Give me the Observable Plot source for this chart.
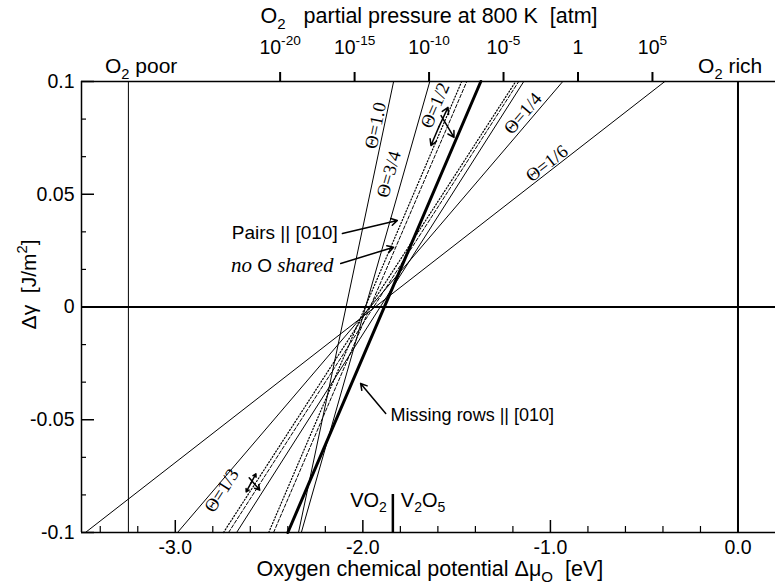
<!DOCTYPE html>
<html><head><meta charset="utf-8">
<script src="https://cdn.jsdelivr.net/npm/d3@7"></script>
<script src="https://cdn.jsdelivr.net/npm/@observablehq/plot@0.6"></script>
<style>body{margin:0;background:#fff;} svg{display:block;}</style>
</head><body><div id="chart"></div>
<script>
// ---------- data ----------
const lineNames = ["Θ=1.0","Θ=3/4","Θ=1/2 missing rows","Θ=1/2 pairs","Θ=1/2 no O shared","Θ=1/3","Θ=1/3 pairs","Θ=1/3 no O shared","Θ=1/4","Θ=1/6"];
const lineKind  = ["plain","plain","missing","pairs","noO","plain","pairs","noO","plain","plain"];
const muAtTop    = [-1.836,-1.643,-1.371,-1.473,-1.446,-1.142,-1.185,-1.169,-0.934,-0.390]; // Δμ where Δγ = +0.1
const muAtBottom = [-2.343,-2.328,-2.400,-2.502,-2.476,-2.673,-2.743,-2.716,-2.988,-3.479]; // Δμ where Δγ = -0.1

const xTicksMajor = [-3, -2, -1, 0];
const xTicksMinor = [-3.4,-3.2,-2.8,-2.6,-2.4,-2.2,-1.8,-1.6,-1.4,-1.2,-0.8,-0.6,-0.4,-0.2];
const yTicksMajor = [0.1, 0.05, 0, -0.05, -0.1];
const yTicksMinor = [0.08333,0.06667,0.03333,0.01667,-0.01667,-0.03333,-0.06667,-0.08333];

const pExponents = [-20, -15, -10, -5, 0, 5];
const pLabels = ["10^{-20}","10^{-15}","10^{-10}","10^{-5}","1","10^{5}"];
const muStd800 = -0.853;     // Δμ_O at p(O2) = 1 atm, 800 K
const muPerDecade = 0.0794;  // (kT/2)·ln10 at 800 K

const muO2poor = -3.25, muO2rich = 0;
const muVO2V2O5 = -1.84;

const thetaLabels = ["Θ=1.0","Θ=3/4","Θ=1/2","Θ=1/4","Θ=1/6","Θ=1/3"];
const thetaLine   = [0, 1, 2, 8, 9, 5];
const thetaX = [-1.932,-1.862,-1.615,-1.147,-1.019,-2.753];
const thetaY = [0.0805, 0.0588, 0.0894, 0.0858, 0.0636,-0.0814];

const noteText = ["Pairs || [010]", "no O shared", "Missing rows || [010]"];
const noteX = [-2.134, -2.156, -1.852];
const noteY = [0.0330, 0.0184, -0.0480];
const noteAnchor = ["end", "end", "start"];

const arrowX1 = [-2.109,-2.118,-1.878, -1.594,-1.594,-1.583, -2.596,-2.596,-2.606];
const arrowY1 = [ 0.0326, 0.0193,-0.0472, 0.0800, 0.0800, 0.0849, -0.0780,-0.0780,-0.0757];
const arrowX2 = [-1.816,-1.836,-2.012, -1.546,-1.637,-1.514, -2.570,-2.622,-2.550];
const arrowY2 = [ 0.0384, 0.0265,-0.0339, 0.0885, 0.0716, 0.0752, -0.0740,-0.0820,-0.0812];

// ---------- layout ----------
const W = 775, H = 588, mL = 81, mR = 0, mT = 81, mB = 56;
const xDom = [-3.5, 0.2], yDom = [-0.1, 0.1];
const kx = (W - mL - mR) / (xDom[1] - xDom[0]);
const ky = (H - mT - mB) / (yDom[1] - yDom[0]);

const rows = lineNames.flatMap((name, i) => [
  {name, kind: lineKind[i], mu: muAtBottom[i], dg: -0.1},
  {name, kind: lineKind[i], mu: muAtTop[i], dg: 0.1}
]);
const slope = i => 0.2 / (muAtTop[i] - muAtBottom[i]);
const thetaData = thetaLabels.map((t, j) => ({
  t, x: thetaX[j], y: thetaY[j],
  rot: -Math.atan(slope(thetaLine[j]) * ky / kx) * 180 / Math.PI
}));
const pPos = pExponents.map(n => muStd800 + muPerDecade * n);
const pData = pPos.map((x, i) => ({x, label: pLabels[i]}));
const notes = noteText.map((t, i) => ({t, x: noteX[i], y: noteY[i], a: noteAnchor[i]}));
const arrows = arrowX1.map((x1, i) => ({x1, y1: arrowY1[i], x2: arrowX2[i], y2: arrowY2[i]}));

const SANS = "'Liberation Sans', Arial, Helvetica, sans-serif";
const SERIF = "'Liberation Serif', 'Times New Roman', serif";

const styleOf = {
  plain:   {strokeWidth: 1},
  missing: {strokeWidth: 3},
  pairs:   {strokeWidth: 1.2, strokeDasharray: "1.2,2"},
  noO:     {strokeWidth: 1, strokeDasharray: "3.5,2"}
};

const chart = Plot.plot({
  width: W, height: H,
  marginLeft: mL, marginRight: mR, marginTop: mT, marginBottom: mB,
  x: {domain: xDom},
  y: {domain: yDom},
  style: {fontFamily: SANS, fontSize: "19px", color: "black", background: "white", overflow: "visible"},
  marks: [
    ...Object.keys(styleOf).map(k =>
      Plot.line(rows.filter(r => r.kind === k), {x: "mu", y: "dg", z: "name", stroke: "black", ...styleOf[k]})
    ),
    Plot.ruleY([0], {stroke: "black", strokeWidth: 2}),
    Plot.ruleX([muO2rich], {stroke: "black", strokeWidth: 2}),
    Plot.ruleX([muO2poor], {stroke: "black", strokeWidth: 1}),
    Plot.ruleX([muVO2V2O5], {y1: -0.1, y2: -0.1 + 38 / ky, stroke: "black", strokeWidth: 2.5}),
    Plot.ruleY([yDom[1], yDom[0]], {stroke: "black", strokeWidth: 1.5}),
    Plot.ruleX([xDom[0]], {stroke: "black", strokeWidth: 1.5}),
    Plot.ruleX(xTicksMajor, {x: d => d, y1: -0.1, y2: -0.1 + 12 / ky, strokeWidth: 1.5}),
    Plot.ruleX(xTicksMinor, {x: d => d, y1: -0.1, y2: -0.1 + 6 / ky, strokeWidth: 1.2}),
    Plot.ruleY(yTicksMajor, {y: d => d, x1: xDom[0], x2: xDom[0] + 13 / kx, strokeWidth: 1.5}),
    Plot.ruleY(yTicksMinor, {y: d => d, x1: xDom[0], x2: xDom[0] + 5 / kx, strokeWidth: 1.2}),
    Plot.ruleX(pData, {x: "x", y1: 0.1, y2: 0.1 + 9 / ky, strokeWidth: 2}),
    Plot.axisX({ticks: xTicksMajor, tickFormat: d => d.toFixed(1), tickSize: 0, tickPadding: 8, label: null, fontSize: 19.5}),
    Plot.axisY({ticks: yTicksMajor, tickFormat: d => String(d), tickSize: 0, tickPadding: 7, label: null, fontSize: 19.5}),
    Plot.text(pData, {x: "x", y: 0.1, text: "label", dy: -34, fontSize: 19.5}),
    Plot.text(["O_{2}\u00a0\u00a0\u00a0partial pressure at 800 K\u00a0\u00a0[atm]"], {x: -1.647, y: 0.1, text: d => d, dy: -65, fontSize: 21.5}),
    Plot.text(["Oxygen chemical potential Δμ_{O}\u00a0\u00a0[eV]"], {x: -1.643, y: -0.1, text: d => d, dy: 37, fontSize: 21.5}),
    Plot.text(["Δγ\u00a0\u00a0[J/m^{2}]"], {x: xDom[0], y: 0.01, text: d => d, dx: -52, rotate: -90, fontSize: 21}),
    Plot.text(["O_{2} poor"], {x: -3.182, y: 0.1, text: d => d, dy: -15, fontSize: 21}),
    Plot.text(["O_{2} rich"], {x: -0.213, y: 0.1, text: d => d, dy: -15, textAnchor: "start", fontSize: 21}),
    Plot.text(["VO_{2}"], {x: muVO2V2O5, y: -0.0858, text: d => d, dx: -6, textAnchor: "end", fontSize: 20}),
    Plot.text(["V_{2}O_{5}"], {x: muVO2V2O5, y: -0.0858, text: d => d, dx: 8, textAnchor: "start", fontSize: 20}),
    Plot.text(thetaData, {x: "x", y: "y", text: "t", rotate: "rot", fontFamily: SERIF, fontSize: 18.5}),
    Plot.text(notes.filter(d => d.a === "end"), {x: "x", y: "y", text: "t", textAnchor: "end", fontSize: 19}),
    Plot.text(notes.filter(d => d.a === "start"), {x: "x", y: "y", text: "t", textAnchor: "start", fontSize: 18}),
    Plot.arrow(arrows, {x1: "x1", y1: "y1", x2: "x2", y2: "y2", stroke: "black", strokeWidth: 1.5, headLength: 7})
  ]
});

document.getElementById("chart").append(chart);

function richify(el) {
  const s = el.textContent;
  if (s === "no O shared") {
    el.textContent = "";
    const parts = [["no ", SERIF, "italic"], ["O", SANS, "normal"], [" shared", SERIF, "italic"]];
    for (const [t, f, st] of parts) {
      const ts = document.createElementNS("http://www.w3.org/2000/svg", "tspan");
      ts.setAttribute("font-family", f); ts.setAttribute("font-style", st);
      if (f === SERIF) ts.setAttribute("font-size", "21px");
      ts.textContent = t; el.appendChild(ts);
    }
    return;
  }
  if (!/[\^_]\{/.test(s)) return;
  el.textContent = "";
  const re = /([\^_])\{([^}]*)\}/g;
  let last = 0, m, pending = 0;
  const add = (t, kind) => {
    const ts = document.createElementNS("http://www.w3.org/2000/svg", "tspan");
    if (kind === "^") { ts.setAttribute("font-size", "70%"); ts.setAttribute("dy", (-0.62 + pending / 0.7).toFixed(3) + "em"); pending = 0.434; }
    else if (kind === "_") { ts.setAttribute("font-size", "70%"); ts.setAttribute("dy", (0.38 + pending / 0.7).toFixed(3) + "em"); pending = -0.266; }
    else { if (pending) ts.setAttribute("dy", pending.toFixed(3) + "em"); pending = 0; }
    ts.textContent = t; el.appendChild(ts);
  };
  while ((m = re.exec(s))) {
    if (m.index > last) add(s.slice(last, m.index), null);
    add(m[2], m[1]);
    last = m.index + m[0].length;
  }
  if (last < s.length) add(s.slice(last), null);
}
chart.querySelectorAll("text").forEach(richify);
</script>
</body></html>
